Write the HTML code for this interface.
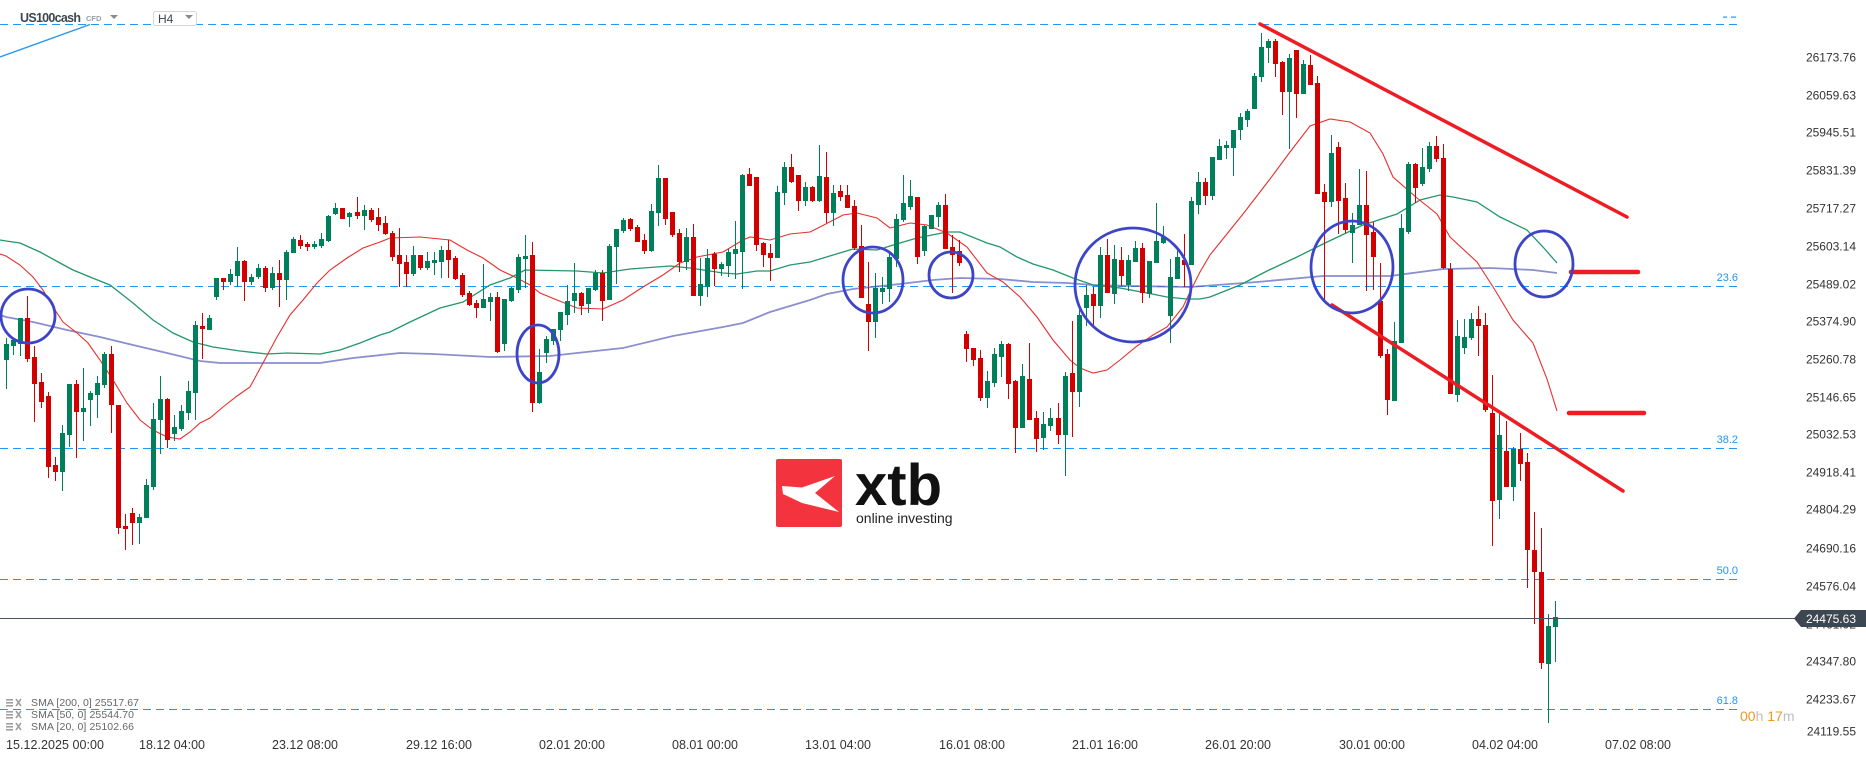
<!DOCTYPE html>
<html><head><meta charset="utf-8">
<style>
html,body{margin:0;padding:0;background:#fff;}
svg{display:block;font-family:"Liberation Sans",Arial,sans-serif;}
</style></head><body>
<svg id="c" width="1866" height="761" viewBox="0 0 1866 761" xmlns="http://www.w3.org/2000/svg">
<rect width="1866" height="761" fill="#fff"/>
<!-- fib dashed lines -->
<g stroke="#2196f3" stroke-width="1" stroke-dasharray="8 5" fill="none">
<line x1="0" y1="24.5" x2="1738" y2="24.5"/>
<line x1="0" y1="286.5" x2="1738" y2="286.5"/>
<line x1="0" y1="448.5" x2="1738" y2="448.5"/>
<line x1="0" y1="579.5" x2="1738" y2="579.5"/>
<line x1="0" y1="709.5" x2="1738" y2="709.5"/>
</g>
<g fill="#2196f3" font-size="11" text-anchor="end">
<text x="1738" y="281">23.6</text>
<text x="1738" y="443">38.2</text>
<text x="1738" y="574">50.0</text>
<text x="1738" y="704">61.8</text>
</g>
<rect x="1723" y="16.5" width="4" height="1.2" fill="#2196f3"/>
<rect x="1731" y="16.5" width="5" height="1.2" fill="#2196f3"/>
<line x1="0" y1="57" x2="90" y2="24.5" stroke="#2196f3" stroke-width="1.3"/>

<!-- logo -->
<rect x="776" y="459" width="66" height="68" rx="2" fill="#f3343f"/>
<polygon points="782,486 802,487.5 835,476 815,493 839,512 802,503 783,494" fill="#fff"/>
<text x="855" y="505" font-size="58" font-weight="bold" fill="#111">xtb</text>
<text x="856" y="523" font-size="14" fill="#222">online investing</text>

<!-- SMAs -->
<polyline fill="none" stroke="#5a5fba" stroke-opacity="0.7" stroke-width="1.8" points="0,315 6,317 33,322 67,330 100,337 133,345 167,353 200,361 220,363 320,363 353,358 400,353 433,354 490,357 550,356 577,353 623,348 673,336 723,327 743,323 770,312 810,300 827,294 853,289 900,284 933,280 960,278 1000,279 1033,282 1067,283 1093,285 1133,286 1190,287 1257,282 1323,276 1390,276 1443,269 1490,268 1533,270 1557,273"/>
<polyline fill="none" stroke="#22976a" stroke-width="1.3" points="0,240 6,241 20,243 40,252 60,263 73,270 90,277 110,285 133,303 153,320 173,333 193,342 213,347 240,351 267,354 287,353 320,354 340,350 360,343 380,335 390,332 410,322 440,308 463,302 490,285 510,278 525,270 577,271 603,273 630,269 670,266 690,268 723,273 737,274 757,271 770,271 790,265 810,262 843,252 853,249 877,250 900,243 917,238 947,232 960,232 987,243 1000,247 1017,257 1033,264 1053,270 1073,278 1093,285 1120,288 1147,293 1167,297 1187,299 1200,299 1210,297 1240,285 1267,271 1297,257 1323,244 1363,225 1397,214 1420,200 1440,195 1453,197 1477,202 1500,217 1527,230 1543,247 1557,263"/>
<polyline fill="none" stroke="#e5302d" stroke-width="1.1" points="0,254 6,256 20,265 33,277 43,290 53,307 63,322 77,333 88,343 100,360 113,380 127,403 140,420 153,430 167,437 180,439 190,432 200,423 210,418 223,407 237,396 250,387 263,363 277,337 290,315 303,300 317,283 330,270 347,258 363,248 380,242 390,238 420,237 450,240 467,250 483,258 500,270 517,278 530,285 540,293 557,300 577,308 603,309 623,300 643,287 663,275 680,263 697,257 723,252 743,240 750,237 770,240 790,234 810,232 820,227 843,215 857,213 877,218 890,228 910,223 927,225 947,233 967,247 987,273 1003,282 1020,297 1037,317 1053,340 1070,360 1080,368 1093,373 1107,370 1120,360 1137,346 1153,335 1167,327 1183,307 1190,292 1200,272 1210,255 1243,214 1270,179 1290,152 1310,126 1330,119 1350,122 1370,133 1383,154 1393,177 1417,198 1437,214 1450,237 1477,262 1495,290 1513,320 1533,343 1547,379 1557,411"/>

<g id="cd"></g>

<!-- price line -->
<line x1="0" y1="618.5" x2="1796" y2="618.5" stroke="#4a5560" stroke-width="1"/>

<!-- trend lines -->
<g stroke="#ee1d23" stroke-linecap="round" fill="none">
<line x1="1260" y1="24" x2="1627" y2="217" stroke-width="3.5"/>
<line x1="1332" y1="305" x2="1623" y2="491" stroke-width="3.5"/>
<line x1="1571" y1="272" x2="1638" y2="272" stroke-width="4.5"/>
<line x1="1569" y1="413" x2="1644" y2="413" stroke-width="4.5"/>
</g>

<!-- circles -->
<g fill="none" stroke="#3c45c8" stroke-width="2.8">
<ellipse cx="28" cy="316" rx="27" ry="27"/>
<ellipse cx="538" cy="354" rx="21" ry="29"/>
<ellipse cx="873" cy="280" rx="30" ry="33"/>
<ellipse cx="951" cy="275" rx="22" ry="23"/>
<ellipse cx="1133" cy="285" rx="58" ry="57"/>
<ellipse cx="1352" cy="267" rx="41" ry="46"/>
<ellipse cx="1544" cy="264" rx="29" ry="33"/>
</g>

<!-- header -->
<text x="20" y="22" font-size="12.5" font-weight="bold" fill="#3d4750" textLength="61">US100cash</text>
<text x="86" y="21" font-size="7.5" font-weight="bold" fill="#9aa0a6">CFD</text>
<polygon points="110,15 118,15 114,19" fill="#8a8a8a"/>
<rect x="153.5" y="11.5" width="43" height="14" rx="2" fill="#fff" stroke="#d6d6d6"/>
<text x="158" y="23" font-size="12" fill="#3d4750">H4</text>
<polygon points="185,15 193,15 189,19" fill="#8a8a8a"/>

<!-- y axis -->
<g font-size="12" fill="#333" text-anchor="end">
<text x="1856" y="61.5">26173.76</text>
<text x="1856" y="99.5">26059.63</text>
<text x="1856" y="136.5">25945.51</text>
<text x="1856" y="174.5">25831.39</text>
<text x="1856" y="212.5">25717.27</text>
<text x="1856" y="250.5">25603.14</text>
<text x="1856" y="288.5">25489.02</text>
<text x="1856" y="325.5">25374.90</text>
<text x="1856" y="363.5">25260.78</text>
<text x="1856" y="401.5">25146.65</text>
<text x="1856" y="438.5">25032.53</text>
<text x="1856" y="476.5">24918.41</text>
<text x="1856" y="513.5">24804.29</text>
<text x="1856" y="552.5">24690.16</text>
<text x="1856" y="590.5">24576.04</text>
<text x="1856" y="628.5">24461.92</text>
<text x="1856" y="665.5">24347.80</text>
<text x="1856" y="703.5">24233.67</text>
<text x="1856" y="735.5">24119.55</text>
</g>
<polygon points="1794,618.5 1801,610 1866,610 1866,627 1801,627" fill="#3d4752"/>
<text x="1856" y="623" font-size="12" fill="#fff" text-anchor="end">24475.63</text>

<!-- countdown -->
<text x="1740" y="721" font-size="14"><tspan fill="#f7941d">00</tspan><tspan fill="#bdbdbd">h </tspan><tspan fill="#f7941d">17</tspan><tspan fill="#bdbdbd">m</tspan></text>

<!-- x axis -->
<g font-size="12.5" fill="#333" xml:space="preserve">
<text x="6" y="749" textLength="98">15.12.2025  00:00</text>
<text x="139" y="749" textLength="66">18.12  04:00</text>
<text x="272" y="749" textLength="66">23.12  08:00</text>
<text x="406" y="749" textLength="66">29.12  16:00</text>
<text x="539" y="749" textLength="66">02.01  20:00</text>
<text x="672" y="749" textLength="66">08.01  00:00</text>
<text x="805" y="749" textLength="66">13.01  04:00</text>
<text x="939" y="749" textLength="66">16.01  08:00</text>
<text x="1072" y="749" textLength="66">21.01  16:00</text>
<text x="1205" y="749" textLength="66">26.01  20:00</text>
<text x="1339" y="749" textLength="66">30.01  00:00</text>
<text x="1472" y="749" textLength="66">04.02  04:00</text>
<text x="1605" y="749" textLength="66">07.02  08:00</text>
</g>

<!-- legend -->
<g fill="#a0a0a0">
<rect x="6" y="699" width="7" height="1.6"/><rect x="6" y="702" width="7" height="1.6"/><rect x="6" y="705" width="7" height="1.6"/>
<rect x="6" y="711" width="7" height="1.6"/><rect x="6" y="714" width="7" height="1.6"/><rect x="6" y="717" width="7" height="1.6"/>
<rect x="6" y="723" width="7" height="1.6"/><rect x="6" y="726" width="7" height="1.6"/><rect x="6" y="729" width="7" height="1.6"/>
</g>
<g stroke="#a0a0a0" stroke-width="1.6">
<line x1="16" y1="699" x2="21" y2="706"/><line x1="21" y1="699" x2="16" y2="706"/>
<line x1="16" y1="711" x2="21" y2="718"/><line x1="21" y1="711" x2="16" y2="718"/>
<line x1="16" y1="723" x2="21" y2="730"/><line x1="21" y1="723" x2="16" y2="730"/>
</g>
<g font-size="10.5" fill="#666">
<text x="31" y="706" textLength="108">SMA [200, 0] 25517.67</text>
<text x="31" y="718" textLength="103">SMA [50, 0] 25544.70</text>
<text x="31" y="730" textLength="103">SMA [20, 0] 25102.66</text>
</g>
</svg>
<script>
(function(){
var D=[[344,360,338,389,1],[340,346,338,355,1],[318,344,318,356,1],[318,359,296,362,0],[357,384,346,422,0],[382,402,373,408,0],[396,467,392,478,0],[465,472,457,481,0],[433,472,425,491,1],[384,435,384,447,1],
[384,412,380,458,0],[408,412,368,441,1],[393,400,391,426,1],[383,395,376,418,1],[354,385,352,388,1],[354,405,346,433,0],[405,528,405,534,0],[526,529,514,550,0],[513,523,508,545,0],[517,523,514,544,1],
[485,518,479,518,1],[419,487,403,490,1],[399,420,376,454,1],[399,440,398,448,0],[427,434,415,441,1],[411,429,405,431,1],[391,413,381,420,1],[325,393,321,420,1],[326,329,313,359,0],[318,330,315,330,1],
[278,297,278,300,1],[278,282,278,290,0],[274,282,269,285,1],[261,276,247,287,1],[261,282,260,301,0],[277,282,274,285,1],[268,277,264,279,1],[268,288,266,292,0],[273,288,267,290,1],[273,280,260,307,0],
[252,280,250,300,1],[239,253,237,253,1],[240,246,235,249,0],[244,247,242,251,0],[244,247,241,249,1],[239,246,233,248,1],[216,241,215,242,1],[208,214,203,215,1],[208,219,208,219,0],[213,217,212,227,1],
[212,216,197,219,0],[210,216,205,230,1],[210,220,208,222,0],[217,225,208,231,0],[223,234,216,235,0],[233,257,231,261,0],[255,264,228,287,0],[262,274,255,287,0],[255,274,246,276,1],[255,268,255,270,0],
[261,268,252,270,1],[260,263,252,275,1],[250,262,246,278,1],[250,260,240,278,0],[258,279,256,280,0],[275,295,273,297,0],[293,305,291,306,0],[303,308,300,318,0],[299,308,264,308,1],[297,302,293,321,1],
[297,352,292,353,0],[299,344,299,351,1],[288,301,287,302,1],[257,290,254,293,1],[256,259,235,288,1],[255,403,242,412,0],[372,403,349,404,1],[339,353,336,363,1],[329,341,329,345,1],[312,330,312,341,1],
[301,315,285,325,1],[293,301,263,313,1],[293,306,292,315,0],[288,304,288,313,1],[273,290,270,291,1],[273,301,270,321,0],[246,300,244,300,1],[229,247,229,284,1],[220,231,218,233,1],[219,229,218,231,0],
[227,242,225,242,0],[240,251,234,254,0],[211,251,204,252,1],[178,213,165,226,1],[178,219,178,225,0],[212,235,212,237,0],[233,262,229,272,0],[237,262,228,270,1],[237,296,224,296,0],[284,296,258,306,1],
[258,287,249,297,1],[254,269,252,286,0],[264,269,262,276,1],[252,266,249,277,1],[249,254,221,279,1],[175,252,174,289,1],[174,186,168,186,0],[177,245,177,251,0],[243,255,242,267,0],[253,258,244,281,0],
[192,258,186,258,1],[167,193,162,205,1],[167,182,154,183,0],[175,201,175,211,0],[187,201,182,206,1],[187,201,186,202,0],[176,201,145,202,1],[177,213,152,223,0],[193,213,185,226,1],[191,197,185,201,0],
[195,208,185,208,0],[206,248,200,250,0],[246,298,225,298,0],[304,322,262,351,0],[288,322,273,338,1],[288,292,277,304,1],[257,289,254,302,1],[219,259,214,267,1],[203,220,175,222,1],[196,207,180,210,1],
[197,257,197,264,0],[226,251,225,256,1],[215,229,215,229,1],[205,217,202,227,1],[205,249,194,249,0],[247,255,235,293,0],[251,263,240,266,0],[334,349,331,362,0],[348,360,348,366,0],[358,398,350,401,0],
[381,398,371,408,1],[354,383,348,387,1],[344,357,341,377,1],[344,384,343,399,0],[381,428,380,453,0],[376,428,364,428,1],[379,420,343,420,0],[418,439,411,452,0],[424,438,412,450,1],[418,426,408,431,1],
[418,435,403,444,0],[376,435,372,476,1],[373,392,321,437,0],[315,392,309,407,1],[295,308,285,326,1],[294,306,287,327,0],[255,306,247,318,1],[255,293,239,293,0],[259,294,245,304,1],[260,276,247,286,0],
[260,285,255,291,1],[248,262,241,262,1],[248,293,243,303,0],[261,294,261,298,1],[241,263,203,263,1],[237,243,226,244,1],[277,316,259,343,1],[257,279,249,279,1],[260,265,234,287,0],[201,265,197,265,1],
[182,205,172,214,1],[182,196,178,205,0],[157,196,157,200,1],[146,160,139,160,1],[145,148,141,159,1],[130,148,130,176,1],[117,130,113,140,1],[111,120,109,127,1],[76,109,73,109,1],[47,77,33,82,1],
[41,48,39,63,1],[41,64,39,77,0],[62,92,61,115,0],[58,92,54,149,1],[50,94,50,118,0],[64,94,60,94,1],[65,85,55,85,0],[83,194,76,194,0],[192,202,184,301,0],[153,202,135,207,1],
[147,201,142,234,0],[198,230,183,233,0],[225,233,213,263,1],[205,225,169,225,1],[205,235,171,291,0],[232,257,222,290,0],[301,356,263,358,0],[354,400,349,415,0],[341,401,322,401,1],[228,343,214,343,1],
[164,232,162,234,1],[164,188,163,203,0],[167,184,148,186,1],[146,169,142,172,1],[146,159,136,162,0],[158,268,144,269,0],[269,394,263,394,0],[336,395,320,402,1],[337,348,319,354,1],[319,338,313,340,1],
[319,326,306,356,0],[325,410,313,412,0],[413,501,375,546,0],[435,500,411,519,1],[451,487,421,487,0],[449,487,447,501,1],[449,464,433,481,0],[462,550,453,588,0],[550,572,512,624,0],[572,663,528,669,0],
[626,664,614,723,1],[617,627,601,662,1]];
var NS="http://www.w3.org/2000/svg",g=document.getElementById("cd");
for(var i=0;i<D.length;i++){
 var d=D[i],x=Math.round(6+7.01*i),col=d[4]?"#00805a":"#d30000";
 var l=document.createElementNS(NS,"rect");
 l.setAttribute("x",x);l.setAttribute("y",d[2]);l.setAttribute("width",1);l.setAttribute("height",Math.max(d[3]-d[2],1));l.setAttribute("fill",col);
 g.appendChild(l);
 var r=document.createElementNS(NS,"rect");
 r.setAttribute("x",x-2);r.setAttribute("y",d[0]);r.setAttribute("width",5);r.setAttribute("height",Math.max(d[1]-d[0],2));r.setAttribute("fill",col);
 g.appendChild(r);
}
})();
</script>
</body></html>
